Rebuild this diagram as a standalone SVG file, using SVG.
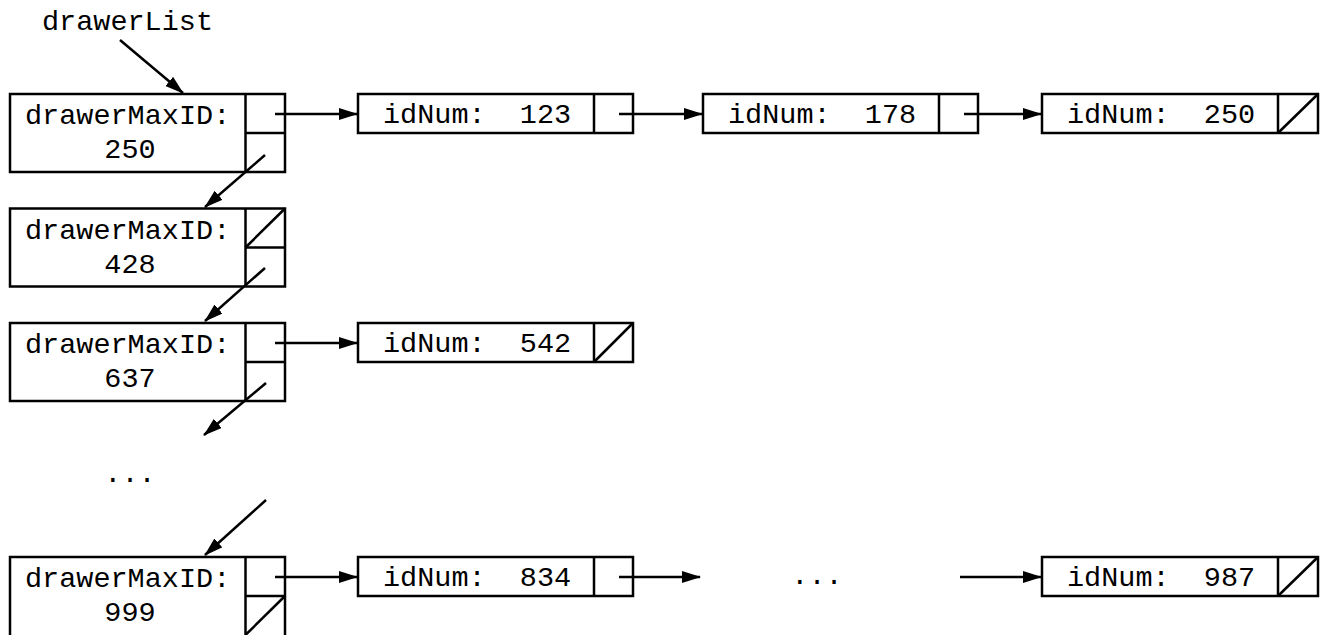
<svg xmlns="http://www.w3.org/2000/svg" width="1320" height="635" viewBox="0 0 1320 635" xml:space="preserve">
<style>
.box{fill:#fff;stroke:#000;stroke-width:2.5}
.ln{stroke:#000;stroke-width:2.5;fill:none}
.ar{stroke:#000;stroke-width:2.5;fill:none;marker-end:url(#ah)}
.t{font-family:"Liberation Mono","DejaVu Sans Mono",monospace;font-size:28.5px;fill:#000;white-space:pre}
.c{text-anchor:middle}
</style>
<defs>
<marker id="ah" markerUnits="userSpaceOnUse" markerWidth="20" markerHeight="14" refX="18" refY="6" orient="auto">
<path d="M0,0 L19,6 L0,12 z" fill="#000"/>
</marker>
</defs>
<rect width="1320" height="635" fill="#fff"/>
<text id="drawerList" class="t" x="42" y="30">drawerList</text>
<g id="drawer250">
<rect class="box" x="10" y="94" width="275" height="78"/>
<line class="ln" x1="245.5" y1="94" x2="245.5" y2="172"/>
<line class="ln" x1="245.5" y1="133" x2="285" y2="133"/>
<text class="t" x="25" y="124">drawerMaxID:</text>
<text class="t c" x="130" y="158">250</text>
</g>
<g id="drawer428">
<rect class="box" x="10" y="208.5" width="275" height="78"/>
<line class="ln" x1="245.5" y1="208.5" x2="245.5" y2="286.5"/>
<line class="ln" x1="245.5" y1="247.5" x2="285" y2="247.5"/>
<line class="ln" x1="245.5" y1="247.5" x2="285" y2="208.5"/>
<text class="t" x="25" y="238.5">drawerMaxID:</text>
<text class="t c" x="130" y="272.5">428</text>
</g>
<g id="drawer637">
<rect class="box" x="10" y="323" width="275" height="78"/>
<line class="ln" x1="245.5" y1="323" x2="245.5" y2="401"/>
<line class="ln" x1="245.5" y1="362" x2="285" y2="362"/>
<text class="t" x="25" y="353">drawerMaxID:</text>
<text class="t c" x="130" y="387">637</text>
</g>
<text id="dotsV" class="t c" x="130" y="482">...</text>
<g id="drawer999">
<rect class="box" x="10" y="557" width="275" height="80"/>
<line class="ln" x1="245.5" y1="557" x2="245.5" y2="637"/>
<line class="ln" x1="245.5" y1="596" x2="285" y2="596"/>
<line class="ln" x1="245.5" y1="635" x2="285" y2="596"/>
<text class="t" x="25" y="587">drawerMaxID:</text>
<text class="t c" x="130" y="621">999</text>
</g>
<g id="id123">
<rect class="box" x="358" y="94" width="275" height="39"/>
<line class="ln" x1="594" y1="94" x2="594" y2="133"/>
<text class="t" x="383" y="123">idNum:  123</text>
</g>
<g id="id178">
<rect class="box" x="703" y="94" width="275" height="39"/>
<line class="ln" x1="939" y1="94" x2="939" y2="133"/>
<text class="t" x="728" y="123">idNum:  178</text>
</g>
<g id="id250">
<rect class="box" x="1042" y="94" width="276" height="39"/>
<line class="ln" x1="1278" y1="94" x2="1278" y2="133"/>
<line class="ln" x1="1278" y1="133" x2="1318" y2="94"/>
<text class="t" x="1067" y="123">idNum:  250</text>
</g>
<g id="id542">
<rect class="box" x="358" y="323" width="275" height="39"/>
<line class="ln" x1="594" y1="323" x2="594" y2="362"/>
<line class="ln" x1="594" y1="362" x2="633" y2="323"/>
<text class="t" x="383" y="352">idNum:  542</text>
</g>
<g id="id834">
<rect class="box" x="358" y="557" width="275" height="39"/>
<line class="ln" x1="594" y1="557" x2="594" y2="596"/>
<text class="t" x="383" y="586">idNum:  834</text>
</g>
<text id="dotsH" class="t c" x="817" y="584">...</text>
<g id="id987">
<rect class="box" x="1042" y="557" width="276" height="39"/>
<line class="ln" x1="1278" y1="557" x2="1278" y2="596"/>
<line class="ln" x1="1278" y1="596" x2="1318" y2="557"/>
<text class="t" x="1067" y="586">idNum:  987</text>
</g>
<g id="connectors">
<line class="ar" x1="120" y1="40" x2="183" y2="93"/>
<line class="ar" x1="275" y1="114" x2="357" y2="114"/>
<line class="ar" x1="619" y1="114" x2="702" y2="114"/>
<line class="ar" x1="964" y1="114" x2="1041" y2="114"/>
<line class="ar" x1="265" y1="155" x2="205" y2="207"/>
<line class="ar" x1="265" y1="268" x2="205" y2="321"/>
<line class="ar" x1="275" y1="343" x2="357" y2="343"/>
<line class="ar" x1="266" y1="383" x2="204" y2="435"/>
<line class="ar" x1="266" y1="500" x2="205" y2="555"/>
<line class="ar" x1="275" y1="577" x2="357" y2="577"/>
<line class="ar" x1="619" y1="577" x2="700" y2="577"/>
<line class="ar" x1="960" y1="577" x2="1041" y2="577"/>
</g>
</svg>
